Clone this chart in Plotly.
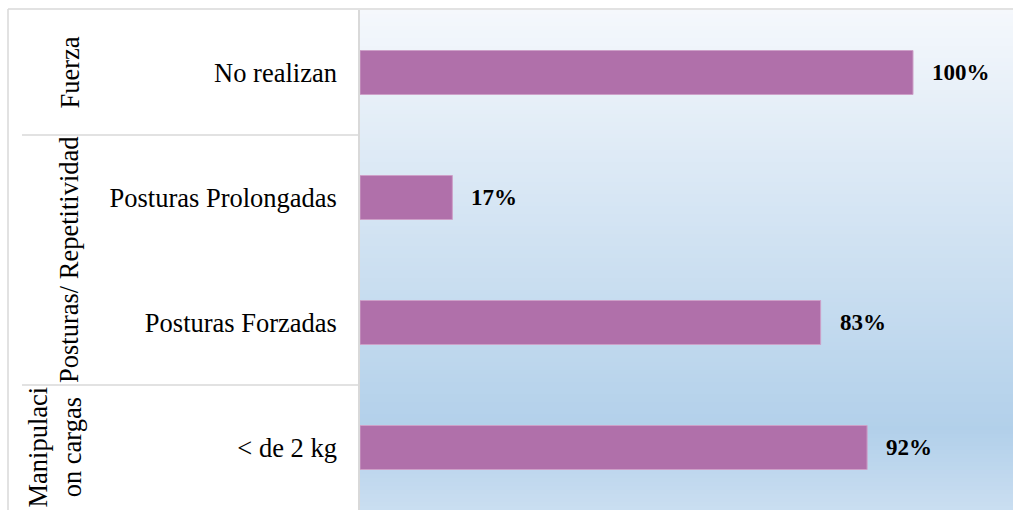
import plotly.graph_objects as go

# ---- data ----
items = ["No realizan", "Posturas Prolongadas", "Posturas Forzadas", "< de 2 kg"]
groups = ["Fuerza", "Posturas/ Repetitividad", "Posturas/ Repetitividad", "Manipulaci<br>on cargas"]
values = [100, 16.7, 83.3, 91.7]

# ---- layout constants (pixels) ----
W, H = 1013, 510
L, R, T, B = 360, 0, 10, 0
PW, PH = W - L - R, H - T - B

def px_x(px):
    return (px - L) / PW

def px_y(py):
    return (H - B - py) / PH

FONT = "Liberation Serif, Times New Roman, serif"

fig = go.Figure()
fig.add_trace(go.Bar(
    x=values, y=items, orientation="h",
    marker=dict(color="#b070aa", line=dict(color="#cda0c8", width=1)),
    hoverinfo="skip", showlegend=False,
))

# data labels
annotations = []
for v, it in zip(values, items):
    annotations.append(dict(
        x=v, y=it, xref="x", yref="y", text=f"{round(v)}%",
        showarrow=False, xanchor="left", yanchor="middle", xshift=17,
        font=dict(family=FONT, size=23, color="#000000", weight="bold"),
    ))

# group labels (rotated), centred over their categories
seen = []
for g in groups:
    if g not in seen:
        seen.append(g)
for g in seen:
    idx = [i for i, gg in enumerate(groups) if gg == g]
    yc = sum(idx) / len(idx)
    annotations.append(dict(
        x=px_x(69 if "<br>" not in g else 54), y=yc, xref="paper", yref="y",
        text=g, textangle=-90, showarrow=False,
        xanchor="center", yanchor="middle",
        font=dict(family=FONT, size=26.5, color="#000000"),
    ))

shapes = []
# gradient background of plot area
stops = [(10, (245, 248, 252)), (430, (178, 208, 234)), (510, (202, 222, 241))]
def col_at(py):
    for (a, ca), (b, cb) in zip(stops[:-1], stops[1:]):
        if py <= b:
            t = max(0.0, (py - a) / (b - a))
            return tuple(round(ca[k] + (cb[k] - ca[k]) * t) for k in range(3))
    return stops[-1][1]

step = 4
py = T
while py < H:
    c = col_at(py + step / 2)
    shapes.append(dict(
        type="rect", xref="paper", yref="paper", layer="below",
        x0=0, x1=1.01, y0=px_y(py + step), y1=px_y(py),
        fillcolor=f"rgb{c}", line=dict(width=0),
    ))
    py += step

# chart border (top and left)
shapes.append(dict(type="line", xref="paper", yref="paper",
                   x0=px_x(8), x1=1.05, y0=px_y(9), y1=px_y(9),
                   line=dict(color="#d9d9d9", width=1.5)))
shapes.append(dict(type="line", xref="paper", yref="paper",
                   x0=px_x(8), x1=px_x(8), y0=px_y(9), y1=-0.05,
                   line=dict(color="#d9d9d9", width=1.5)))
# group separators
for gi in range(1, len(groups)):
    if groups[gi] != groups[gi - 1]:
        shapes.append(dict(type="line", xref="paper", yref="y",
                           x0=px_x(22), x1=0, y0=gi - 0.5, y1=gi - 0.5,
                           line=dict(color="#d9d9d9", width=1.5)))

fig.update_layout(
    width=W, height=H,
    margin=dict(l=L, r=R, t=T, b=B, pad=0),
    paper_bgcolor="white", plot_bgcolor="rgba(0,0,0,0)",
    bargap=0.648,
    xaxis=dict(range=[0, PW / 5.53], visible=False, fixedrange=True),
    yaxis=dict(
        categoryorder="array", categoryarray=items, autorange="reversed",
        showline=True, linecolor="#d9d9d9", linewidth=1.5,
        showgrid=False, zeroline=False, ticks="", ticklabelstandoff=16,
        tickfont=dict(family=FONT, size=26.5, color="#000000"),
        automargin=False, fixedrange=True,
    ),
    annotations=annotations, shapes=shapes,
)

fig.write_html(
    "out.html",
    config=dict(displayModeBar=False),
    post_script="document.body.style.margin='0';document.body.style.overflow='hidden';",
)
